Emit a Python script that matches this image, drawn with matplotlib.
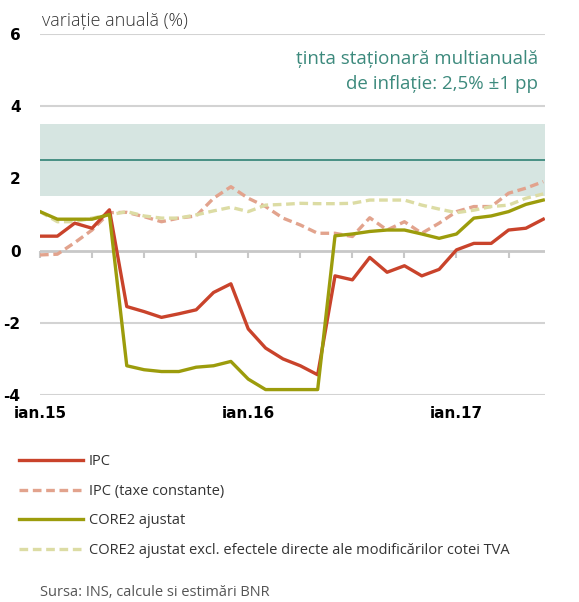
import matplotlib
matplotlib.use("Agg")
import matplotlib.pyplot as plt
import numpy as np

# monthly data, ian.2015 - iun.2017
months = np.arange(30)
tick_pos = [0, 12, 24]
tick_labels = ["ian.15", "ian.16", "ian.17"]

ipc = [0.40, 0.40, 0.76, 0.62, 1.13, -1.55, -1.69, -1.85, -1.75, -1.64,
       -1.16, -0.92, -2.17, -2.70, -3.00, -3.19, -3.44, -0.70, -0.81, -0.19,
       -0.60, -0.42, -0.70, -0.52, 0.02, 0.20, 0.20, 0.57, 0.62, 0.87]
ipc_taxe = [-0.12, -0.10, 0.22, 0.57, 1.05, 1.06, 0.94, 0.80, 0.90, 0.96,
            1.45, 1.77, 1.45, 1.22, 0.90, 0.71, 0.48, 0.48, 0.39, 0.91,
            0.57, 0.80, 0.48, 0.76, 1.08, 1.22, 1.22, 1.59, 1.73, 1.91]
core2 = [1.08, 0.87, 0.87, 0.87, 1.00, -3.19, -3.30, -3.35, -3.35, -3.23,
         -3.19, -3.07, -3.56, -3.85, -3.85, -3.85, -3.85, 0.41, 0.46, 0.53,
         0.57, 0.57, 0.46, 0.34, 0.46, 0.90, 0.96, 1.08, 1.28, 1.40]
core2_tva = [1.08, 0.80, 0.80, 0.90, 0.99, 1.08, 0.96, 0.90, 0.90, 0.99,
             1.10, 1.20, 1.08, 1.26, 1.28, 1.31, 1.30, 1.30, 1.31, 1.40,
             1.40, 1.40, 1.26, 1.15, 1.05, 1.12, 1.22, 1.26, 1.45, 1.57]

target = 2.5
band = 1.0

RED = "#c9432b"
SALMON = "#e2a38d"
OLIVE = "#9c9c0c"
LIGHT_OLIVE = "#dcdca4"
TEAL = "#3d8a7d"
GRID = "#d3d3d3"
TICK_FONT = dict(family="DejaVu Sans", weight="bold", size=11)

fig = plt.figure(figsize=(5.79, 6.02), dpi=100)
ax = fig.add_axes([40 / 579, 1 - 395 / 602, 505 / 579, 361 / 602])

for y in [6, 4, 2, -2, -4]:
    ax.axhline(y, color=GRID, lw=1.5, zorder=0.5)
ax.axhline(0, color="#c8c8c8", lw=2, zorder=0.6)

# target band covers the grid line at 2
ax.axhspan(target - band, target + band, color="#d6e5e1", lw=0, zorder=0.8)
ax.axhline(target, color=TEAL, lw=1.3, zorder=1)

dash = (0, (2.6, 1.4))
l1, = ax.plot(months, ipc, color=RED, lw=2.4, zorder=4)
l2, = ax.plot(months, ipc_taxe, color=SALMON, lw=2.4, ls=dash, zorder=3)
l3, = ax.plot(months, core2, color=OLIVE, lw=2.4, zorder=5)
l4, = ax.plot(months, core2_tva, color=LIGHT_OLIVE, lw=2.4, ls=dash, zorder=3)

ax.set_xlim(0, 29.1)
ax.set_ylim(-4, 6)
ax.set_yticks([6, 4, 2, 0, -2, -4])
ax.set_yticklabels(["6", "4", "2", "0", "-2", "-4"], fontdict=TICK_FONT)
ax.set_xticks(tick_pos)
ax.set_xticklabels(tick_labels, fontdict=TICK_FONT)
ax.tick_params(axis="both", length=0)
ax.tick_params(axis="y", pad=14)
ax.tick_params(axis="x", pad=8)
for s in ax.spines.values():
    s.set_visible(False)

# small tick marks on the zero line, every 3 months
sec = ax.secondary_xaxis(0.4)
sec.set_xticks(np.arange(0, 30, 3))
sec.tick_params(direction="out", length=5, width=1.5, color="#c8c8c8", labelbottom=False, labeltop=False)
sec.spines["bottom"].set_visible(False)
sec.spines["top"].set_visible(False)

fig.text(42 / 579, 1 - 21 / 602, "variație anuală (%)", fontsize=13, color="#333333",
         family="Open Sans", va="center", ha="left", fontweight="light")
ax.text(28.7, 5.55, "ținta staționară multianuală\nde inflație: 2,5% ±1 pp", color=TEAL,
        fontsize=13.5, family="Open Sans", ha="right", va="top", linespacing=1.5)

leg = fig.legend([l1, l2, l3, l4],
                 ["IPC", "IPC (taxe constante)", "CORE2 ajustat",
                  "CORE2 ajustat excl. efectele directe ale modificărilor cotei TVA"],
                 loc="upper left", bbox_to_anchor=(6 / 579, 1 - 441 / 602), frameon=False,
                 handlelength=4.4, handletextpad=0.4, labelspacing=1.0,
                 prop={"family": "Open Sans", "size": 10.5})
for t in leg.get_texts():
    t.set_color("#333333")

fig.text(40 / 579, 1 - 592 / 602, "Sursa: INS, calcule si estimări BNR", fontsize=10.5,
         color="#555555", family="Open Sans", va="center", ha="left")

fig.savefig("out.png", dpi=100)
